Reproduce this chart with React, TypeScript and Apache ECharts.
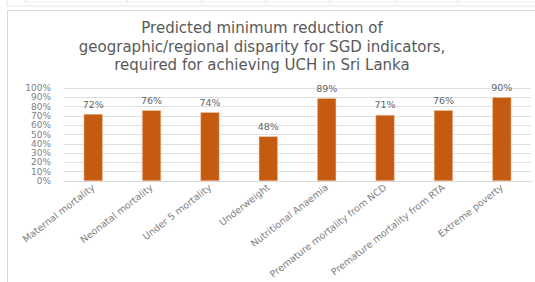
import React, { useEffect, useRef } from "react";
import * as echarts from "echarts";

const categories = [
  "Maternal mortality",
  "Neonatal mortality",
  "Under 5 mortality",
  "Underweight",
  "Nutritional Anaemia",
  "Premature mortality from NCD",
  "Premature mortality from RTA",
  "Extreme poverty",
];
const values = [72, 76, 74, 48, 89, 71, 76, 90];
const titleLines = [
  "Predicted minimum reduction of",
  "geographic/regional disparity for SGD indicators,",
  "required for achieving UCH in Sri Lanka",
];
const tableTicks = [25, 127, 202, 266, 330, 395, 458];

const FONT = "DejaVu Sans";

export default function App() {
  const ref = useRef<HTMLDivElement>(null);
  useEffect(() => {
    const chart = echarts.init(ref.current!, null, { renderer: "svg" });
    const border = "#d9d9d9";
    const graphics: any[] = [
      { type: "line", shape: { x1: 7, y1: 6, x2: 535, y2: 6 }, style: { stroke: "#e6e6e6", lineWidth: 1 } },
      { type: "line", shape: { x1: 7, y1: 0, x2: 7, y2: 6 }, style: { stroke: "#e6e6e6", lineWidth: 1 } },
      { type: "line", shape: { x1: 25, y1: 2, x2: 535, y2: 2 }, style: { stroke: "#ececec", lineWidth: 1 } },
      ...tableTicks.map((x) => ({
        type: "line",
        shape: { x1: x, y1: 0, x2: x, y2: 2 },
        style: { stroke: "#e0e0e0", lineWidth: 1 },
      })),
      { type: "line", shape: { x1: 7.5, y1: 10.5, x2: 535, y2: 10.5 }, style: { stroke: border, lineWidth: 1 } },
      { type: "line", shape: { x1: 7.5, y1: 10.5, x2: 7.5, y2: 282 }, style: { stroke: border, lineWidth: 1 } },
      ...titleLines.map((t, i) => ({
        type: "text",
        x: 262,
        y: 28 + i * 18.5,
        style: {
          text: t,
          align: "center",
          verticalAlign: "middle",
          fill: "#595959",
          font: `15px "${FONT}"`,
        },
      })),
    ];
    chart.setOption({
      animation: false,
      graphic: graphics,
      grid: { left: 64, right: 4, top: 88, bottom: 101, containLabel: false },
      xAxis: {
        type: "category",
        data: categories,
        axisLine: { lineStyle: { color: "#d9d9d9" } },
        axisTick: { show: false },
        axisLabel: {
          interval: 0,
          rotate: 38,
          fontSize: 9.5,
          fontFamily: FONT,
          color: "#7f7f7f",
          margin: 5,
        },
      },
      yAxis: {
        type: "value",
        min: 0,
        max: 100,
        interval: 10,
        axisLine: { show: false },
        axisTick: { show: false },
        splitLine: { lineStyle: { color: "#e0e0e0" } },
        axisLabel: {
          formatter: "{value}%",
          fontSize: 9,
          fontFamily: FONT,
          color: "#7f7f7f",
          margin: 13,
          showMinLabel: true,
          showMaxLabel: true,
        },
      },
      series: [
        {
          type: "bar",
          data: values,
          barWidth: 19,
          itemStyle: { color: "#c55a11", borderColor: "#f0c8a8", borderWidth: 0.5 },
          label: {
            show: true,
            position: "top",
            distance: 5,
            formatter: "{c}%",
            fontSize: 9.5,
            fontFamily: FONT,
            color: "#666666",
          },
        },
      ],
    });
    return () => chart.dispose();
  }, []);
  return (
    <div
      ref={ref}
      style={{ position: "absolute", left: 0, top: 0, width: 535, height: 282, background: "#fff" }}
    />
  );
}
